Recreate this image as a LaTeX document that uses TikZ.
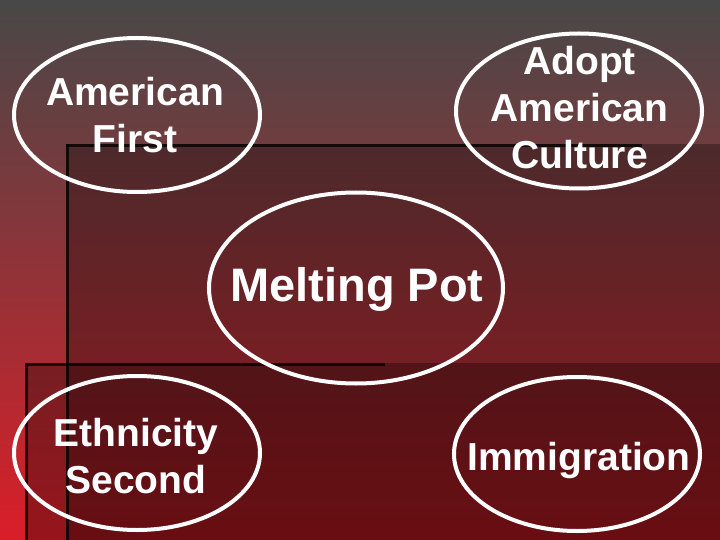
\documentclass[tikz,border=0pt]{standalone}
\usepackage{xcolor}
\usepackage{tikz}
\usepackage{fontspec}
\setmainfont{Liberation Sans}
\usetikzlibrary{shapes.geometric}

\definecolor{slidetop}{RGB}{72,72,72}
\definecolor{slidemid}{RGB}{165,48,55}
\definecolor{slidebot}{RGB}{218,30,40}

\begin{document}
\begin{tikzpicture}[x=1pt,y=-1pt,
    ring/.style={draw=white,line width=4pt,ellipse,inner sep=0pt},
    word/.style={text=white,font=\bfseries\fontsize{39}{47}\selectfont,align=center,inner sep=0pt},
    panel/.style={fill=black,opacity=.3},
    rim/.style={draw=black,line width=3pt,opacity=.75}]
            \useasboundingbox (0,0) rectangle (720,540);
            \shade [top color=slidetop,middle color=slidemid,bottom color=slidebot] (0,0) rectangle (720,540);

            \fill [panel] (66,144) rectangle (720,540);
            \fill [panel] (25,363) rectangle (720,540);
            \draw [rim] (66,145.5) -- (642,145.5);
            \draw [rim] (67.5,144) -- (67.5,540);
            \draw [rim] (25,364.5) -- (385,364.5);
            \draw [rim] (26.5,363) -- (26.5,540);

            \node [ring,minimum width=246pt,minimum height=154pt] (first) at (137,115) {};
            \node [word] (firsttxt) at (135,115) {American\\First};

            \node [ring,minimum width=246pt,minimum height=155pt] (adopt) at (579,111) {};
            \node [word] (adopttxt) at (579.5,107.5) {Adopt\\American\\Culture};

            \node [ring,minimum width=294pt,minimum height=191pt] (pot) at (356,288) {};
            \node [word,font=\bfseries\fontsize{47}{56}\selectfont] (pottxt) at (357,289) {Melting Pot};

            \node [ring,minimum width=246pt,minimum height=154pt] (second) at (137,453) {};
            \node [word] (secondtxt) at (136,456) {Ethnicity\\Second};

            \node [ring,minimum width=246pt,minimum height=154pt] (immig) at (577,454) {};
            \node [word] (immigtxt) at (579,460) {Immigration};
        \end{tikzpicture}
\end{document}
